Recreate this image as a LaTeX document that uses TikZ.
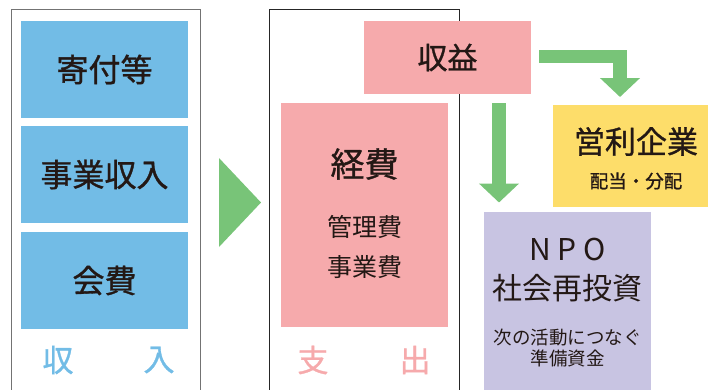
\documentclass[tikz,border=0pt]{standalone}
\usepackage{fontspec}
\setmainfont{Noto Sans CJK JP}
\newfontfamily\jpmid[FakeBold=1]{Noto Sans CJK JP}
\usetikzlibrary{arrows.meta}
\definecolor{inblue}{HTML}{72BCE6}
\definecolor{outpink}{HTML}{F6AAAC}
\definecolor{flowgreen}{HTML}{78C478}
\definecolor{bizyellow}{HTML}{FDDD6A}
\definecolor{npolilac}{HTML}{C8C4E2}
\definecolor{inktext}{HTML}{231815}
\newcommand{\bigjp}{\jpmid\fontsize{32}{36}\selectfont}
\newcommand{\smalljp}{\fontsize{18.5}{21}\selectfont}
\tikzset{
  block/.style={rectangle, inner sep=0pt, minimum width=167pt, text=inktext},
  tag/.style={inner sep=0pt, font=\jpmid\fontsize{31}{36}\selectfont},
  fatarrow/.style={draw=flowgreen, line width=13.5pt, -{Triangle[width=39pt,length=19pt]}},
}
\begin{document}
\begin{tikzpicture}[x=1pt,y=-1pt]
\useasboundingbox (0,0) rectangle (708,389);
% income frame and expense frame
\draw [line width=1pt, color=black!55](11,395)--(11,9)--(200,9)--(200,395);
\draw [line width=1pt, color=black!85](269,395)--(269,9)--(459,9)--(459,395);
% income side
\node (donation)[block, fill=inblue, minimum height=97pt, font=\bigjp] at (104.5,69.5){寄付等};
\node (business)[block, fill=inblue, minimum height=97pt, font=\bigjp] at (104.5,174.5){事業収入};
\node (fees)[block, fill=inblue, minimum height=97pt, font=\bigjp] at (104.5,280.5){会費};
\node (inleft)[tag, text=inblue] at (58,360){収};
\node (inright)[tag, text=inblue] at (159,360){入};
% big triangle
\fill [flowgreen](219,158)--(261,202.5)--(219,247)--cycle;
% expense side
\node (profit)[block, fill=outpink, minimum height=73pt, font=\jpmid\fontsize{30}{36}\selectfont] at (447.5,57.5){収益};
\node (costs)[block, fill=outpink, minimum height=224pt] at (364.5,215){};
\node (coststitle)[inner sep=0pt, text=inktext, font=\jpmid\fontsize{34}{36}\selectfont] at (364.5,164){経費};
\node (costsitems)[inner sep=0pt, text=inktext, align=center, font=\fontsize{25}{40}\selectfont] at (364.5,247){管理費\\事業費};
\node (outleft)[tag, text=outpink] at (313,360){支};
\node (outright)[tag, text=outpink] at (415,360){出};
% where the profit goes
\node (company)[block, fill=bizyellow, minimum height=102pt, minimum width=166pt] at (636,156){};
\node (companytitle)[inner sep=0pt, text=inktext, font=\jpmid\fontsize{31}{36}\selectfont] at (636,141.5){営利企業};
\node (companynote)[inner sep=0pt, text=inktext, font=\jpmid\smalljp] at (636,181){配当・分配};
\node (npo)[block, fill=npolilac, minimum height=190pt] at (567.5,307){};
\node (npotitle)[inner sep=0pt, text=inktext, align=center, font=\fontsize{30}{39}\selectfont] at (567.5,270){N\hspace{0.22em}P\hspace{0.22em}O\\社会再投資};
\node (nponote)[inner sep=0pt, text=inktext, align=center, font=\fontsize{18.5}{21}\selectfont] at (567.5,348){次の活動につなぐ\\準備資金};
\coordinate (npotip) at (499,202.5);
\coordinate (companytip) at (620,97);
\draw [fatarrow, line cap=butt]([yshift=-9pt]profit.south -| npotip)--(npotip);
\draw [fatarrow]([xshift=8pt]profit.east |- 0,56.5)--(companytip |- 0,56.5)--(companytip);
\end{tikzpicture}
\end{document}
